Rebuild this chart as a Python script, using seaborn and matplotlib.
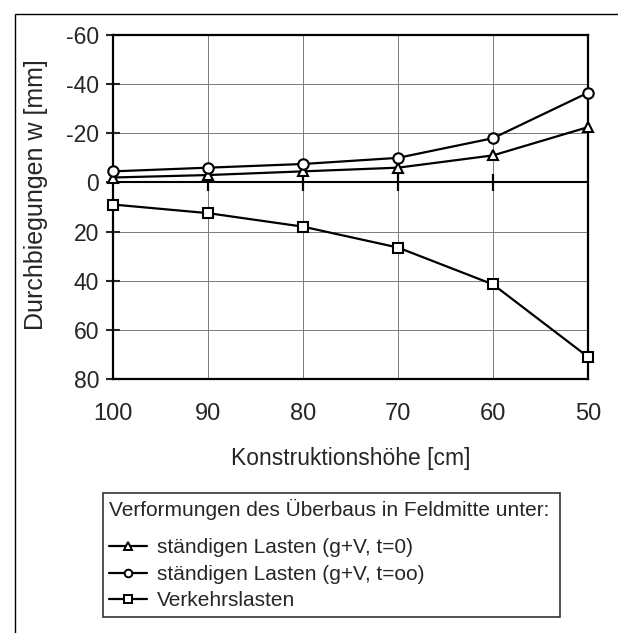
import pandas as pd
import seaborn as sns
import matplotlib.pyplot as plt
import matplotlib.patches as mpatches

# Werte
hoehe = [100, 90, 80, 70, 60, 50]
w_t0 = [-2, -3, -4.5, -6, -11, -22.5]
w_too = [-4.5, -6, -7.5, -10, -18, -36.5]
w_verkehr = [9, 12.5, 18, 26.5, 41.5, 71]

serien = ['ständigen Lasten (g+V, t=0)',
          'ständigen Lasten (g+V, t=oo)',
          'Verkehrslasten']
marker = ['^', 'o', 's']

y_ticks = [-60, -40, -20, 0, 20, 40, 60, 80]
x_ticks = [100, 90, 80, 70, 60, 50]

df = pd.concat([
    pd.DataFrame({'hoehe': hoehe, 'w': w_t0, 'serie': serien[0]}),
    pd.DataFrame({'hoehe': hoehe, 'w': w_too, 'serie': serien[1]}),
    pd.DataFrame({'hoehe': hoehe, 'w': w_verkehr, 'serie': serien[2]}),
], ignore_index=True)

sns.set_style('white')
plt.rcParams['font.family'] = ['Liberation Sans', 'DejaVu Sans']
plt.rcParams['axes.unicode_minus'] = False

fig = plt.figure(figsize=(6.18, 6.33), dpi=100)
ax = fig.add_axes([0.1828, 0.4013, 0.7686, 0.5434])

sns.lineplot(data=df, x='hoehe', y='w', hue='serie', style='serie',
             hue_order=serien, style_order=serien,
             palette=['black'] * 3, markers=dict(zip(serien, marker)),
             dashes=False, legend=False, ax=ax,
             lw=1.6, markersize=7.5, markerfacecolor='white',
             markeredgecolor='black', markeredgewidth=1.5, clip_on=False,
             zorder=3)
linien = list(ax.get_lines())[:3]

# Nulllinie mit Strichen
ax.axhline(0, color='black', lw=1.5, zorder=2)
ax.vlines(x_ticks[1:-1], -3.5, 3.5, color='black', lw=1.6, zorder=2)

ax.set_xlim(100, 50)
ax.set_ylim(80, -60)
ax.set_xticks(x_ticks)
ax.set_yticks(y_ticks)
ax.set_xticklabels([str(v) for v in x_ticks])
ax.set_yticklabels([str(v) for v in y_ticks])
ax.grid(True, color='#7a7a7a', lw=0.7)
for s in ax.spines.values():
    s.set_linewidth(1.6)
    s.set_color('black')
    s.set_visible(True)

ax.tick_params(axis='x', length=0, pad=17, labelsize=17)
ax.tick_params(axis='y', direction='inout', length=10, width=1.5,
               pad=5, labelsize=16.5, left=True)

ax.set_xlabel('Konstruktionshöhe [cm]', fontsize=16.5, labelpad=16)
ax.set_ylabel('Durchbiegungen w [mm]', fontsize=18)
ax.yaxis.set_label_coords(-0.137, 0.535)

leg = fig.legend(handles=linien, labels=serien,
                 title='Verformungen des Überbaus in Feldmitte unter:',
                 loc='upper left', bbox_to_anchor=(0.1667, 0.0269, 0.7393, 0.1943),
                 mode='expand', borderaxespad=0, fontsize=15, title_fontsize=15,
                 alignment='left', frameon=True, fancybox=False,
                 edgecolor='black', handlelength=1.8, numpoints=1,
                 labelspacing=0.36, handletextpad=0.5, borderpad=0.3)
leg.get_frame().set_linewidth(1.2)
leg._legend_box.sep = 13
for h in leg.legend_handles:
    h.set_markersize(5.5)
    h.set_markeredgewidth(1.4)

# Rahmen um die Grafik
fig.add_artist(mpatches.Rectangle((15 / 618, -0.1), 1.2, 1.1 - 14 / 633,
                                  transform=fig.transFigure, fill=False,
                                  lw=1.0, edgecolor='black'))

fig.savefig('out.png', dpi=100)
